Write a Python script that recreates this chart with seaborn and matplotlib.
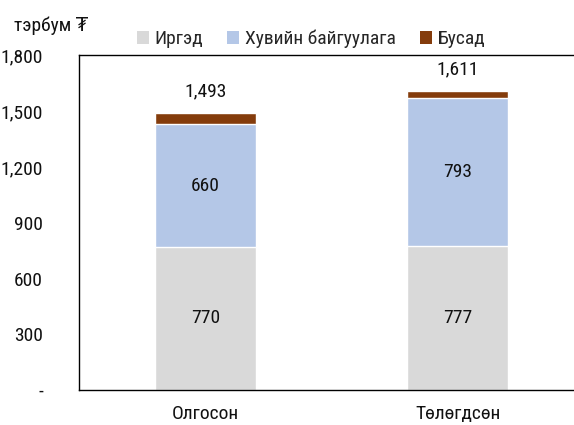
import matplotlib
matplotlib.use("Agg")
import matplotlib.pyplot as plt
import seaborn as sns
import pandas as pd
from matplotlib.patches import Patch

categories = ["Олгосон", "Төлөгдсөн"]
irged = [770, 777]
huviin = [660, 793]
busad = [63, 41]
totals = [1493, 1611]
series_names = ["Иргэд", "Хувийн байгуулага", "Бусад"]
colors = ["#D9D9D9", "#B4C7E7", "#843C0C"]
yticks = [0, 300, 600, 900, 1200, 1500, 1800]
ytick_labels = ["-", "300", "600", "900", "1,200", "1,500", "1,800"]

sns.set_theme(style="white")
plt.rcParams["font.family"] = ["Roboto Condensed", "DejaVu Sans"]

fig = plt.figure(figsize=(5.74, 4.25), dpi=100)
ax = fig.add_axes([79 / 574, 35 / 425, 1 - 79 / 574, (390 - 55.5) / 425])

df = pd.DataFrame({
    "cat": categories,
    "l1": irged,
    "l2": [a + b for a, b in zip(irged, huviin)],
    "l3": [a + b + c for a, b, c in zip(irged, huviin, busad)],
})

sns.barplot(data=df, x="cat", y="l3", color=colors[2], width=0.4, ax=ax, saturation=1)
sns.barplot(data=df, x="cat", y="l2", color=colors[1], width=0.4, ax=ax, saturation=1)
sns.barplot(data=df, x="cat", y="l1", color=colors[0], width=0.4, ax=ax, saturation=1)

fs = 14
tc = "#111111"
for i in range(len(categories)):
    ax.text(i, irged[i] / 2, f"{irged[i]:,}", ha="center", va="center", fontsize=fs, color=tc)
    ax.text(i, irged[i] + huviin[i] / 2, f"{huviin[i]:,}", ha="center", va="center", fontsize=fs, color=tc)
    ax.text(i, totals[i] + 65, f"{totals[i]:,}", ha="center", va="bottom", fontsize=fs, color=tc)

ax.set_ylim(0, 1800)
ax.set_xlim(-0.5, 1.46)
ax.set_yticks(yticks)
ax.set_yticklabels(ytick_labels)
ax.tick_params(axis="y", length=0, pad=26, labelsize=fs, colors=tc)
ax.tick_params(axis="x", length=0, pad=11, labelsize=fs, colors=tc)
ax.set_xlabel("")
ax.set_ylabel("")
for s in ["top", "bottom", "left"]:
    ax.spines[s].set_visible(True)
    ax.spines[s].set_color("black")
    ax.spines[s].set_linewidth(1.0)
ax.spines["right"].set_visible(False)

fig.text(14 / 574, 1 - 26 / 425, "тэрбум ₮", ha="left", va="center", fontsize=fs, color=tc)

handles = [Patch(facecolor=c, edgecolor="none") for c in colors]
fig.legend(handles, series_names, loc="center", bbox_to_anchor=(311 / 574, 1 - 39 / 425), ncol=3,
           frameon=False, fontsize=fs, handlelength=0.6, handleheight=0.6, handletextpad=0.3,
           columnspacing=1.25, borderpad=0)

fig.savefig("out.png", dpi=100)
